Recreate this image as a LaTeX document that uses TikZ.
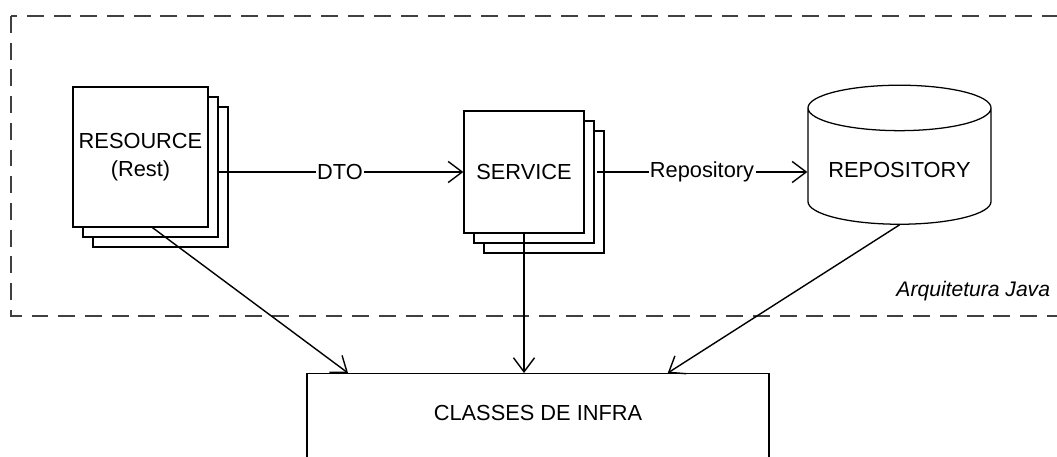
\documentclass[tikz,border=0pt]{standalone}
\usepackage{fontspec}
\setmainfont{Liberation Sans}
\usetikzlibrary{shapes,arrows.meta,positioning,shadows,calc}

\begin{document}
\begin{tikzpicture}[
    x=0.025cm, y=-0.025cm,
    layer/.style={rectangle, draw=black, fill=white, line width=0.9pt, align=center,
                  double copy shadow={shadow xshift=0.25cm, shadow yshift=-0.25cm},
                  font=\fontsize{15.5}{20}\selectfont},
    database/.style={cylinder, shape border rotate=90, aspect=0.3, draw=black, fill=white,
                     line width=0.9pt, font=\fontsize{15.5}{20}\selectfont},
    infra/.style={rectangle, draw=black, line width=0.9pt, anchor=north, minimum width=11.55cm,
                  inner ysep=0.9cm, text height=0.27cm, text depth=1.5cm,
                  font=\fontsize{15.5}{20}\selectfont},
    flow/.style={-{Straight Barb[length=10pt,width=15pt]}, line width=1pt},
    tag/.style={fill=white, inner sep=1pt, font=\fontsize{15.5}{20}\selectfont}
]
    \useasboundingbox (0,0) rectangle (1057,457);
    \clip (0,0) rectangle (1057,457);

    % Java architecture frame
    \draw[dash pattern=on 12pt off 7pt, line width=1pt, draw=black!75] (11,16) rectangle (1090,316);
    \node[anchor=base east, font=\fontsize{15}{18}\selectfont\itshape] (frame) at (1055,297) {Arquitetura Java};

    % Layers
    \node[layer, minimum width=3.375cm, minimum height=3.5cm] (resource) at (140.5,157) {RESOURCE\\(Rest)};
    \node[layer, minimum width=3cm, minimum height=3.05cm] (service) at (524,172) {SERVICE};
    \node[database, minimum width=4.575cm, minimum height=3.475cm] (repository) at (899.5,170) {REPOSITORY};

    % Infra
    \node[infra] (infra) at (538,373) {CLASSES DE INFRA};

    % Flow
    \draw[flow] ([xshift=0.2cm]resource.east |- service.west) -- node[tag] {DTO} (service.west);
    \draw[flow] ([xshift=0.3cm]service.east) -- node[tag] {Repository} (repository.west |- service.east);

    % Dependencies on infra
    \draw[flow] ([xshift=0.3cm]resource.south) -- ($(infra.north west)!0.09!(infra.north east)$);
    \draw[flow] (service.south) -- (service.south |- infra.north);
    \draw[flow] (repository.south) -- ($(infra.north west)!0.78!(infra.north east)$);
\end{tikzpicture}
\end{document}
